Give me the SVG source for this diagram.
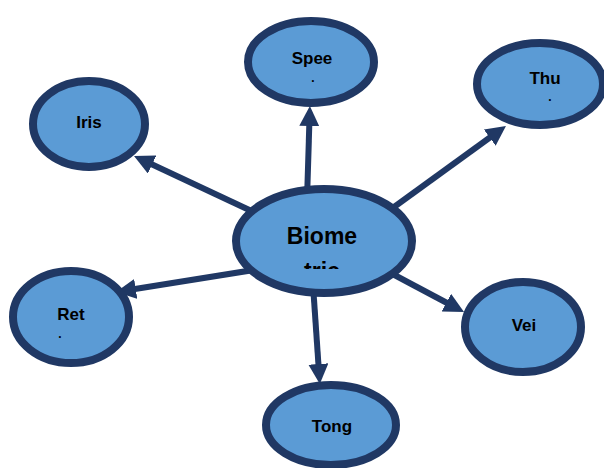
<svg xmlns="http://www.w3.org/2000/svg" width="604" height="468" viewBox="0 0 604 468">
<style>
.node{fill:#5b9bd5;stroke:#203864;stroke-width:8}
.conn{stroke:#203864;stroke-width:6;fill:none;marker-end:url(#ah)}
.lbl{font-family:"Liberation Sans",Arial,sans-serif;font-weight:bold;font-size:17px;fill:#000;text-anchor:middle}
.big{font-size:23px}
.dot{font-size:12px}
</style>
<defs>
<marker id="ah" markerUnits="userSpaceOnUse" viewBox="0 0 20 20" markerWidth="20" markerHeight="20" refX="4" refY="10" orient="auto">
<path d="M0,0 L20,10 L0,20 z" fill="#203864"/>
</marker>
<clipPath id="clipC"><rect x="230" y="180" width="200" height="89"/></clipPath>
</defs>
<rect width="604" height="468" fill="#fff"/>
<g id="connectors">
<line class="conn" x1="307" y1="200" x2="309.4" y2="122"/>
<line class="conn" x1="262" y1="216" x2="148.5" y2="162.8"/>
<line class="conn" x1="383" y1="215" x2="493" y2="135.3"/>
<line class="conn" x1="260" y1="269" x2="131.8" y2="289.5"/>
<line class="conn" x1="385" y1="270" x2="449.9" y2="304.5"/>
<line class="conn" x1="313" y1="285" x2="318.7" y2="368"/>
</g>
<g id="biometric">
<ellipse class="node" cx="324" cy="241" rx="88" ry="52"/>
<text class="lbl big" x="322" y="244">Biome</text>
<text class="lbl big" x="322" y="279" clip-path="url(#clipC)">tric</text>
</g>
<g id="speech">
<ellipse class="node" cx="311" cy="62" rx="63" ry="41"/>
<text class="lbl" x="312" y="64">Spee</text>
<text class="lbl dot" x="313" y="82">.</text>
</g>
<g id="thumb">
<ellipse class="node" cx="540" cy="84" rx="63" ry="41"/>
<text class="lbl" x="545" y="84">Thu</text>
<text class="lbl dot" x="550" y="101">.</text>
</g>
<g id="iris">
<ellipse class="node" cx="89" cy="124" rx="56" ry="43"/>
<text class="lbl" x="89" y="128">Iris</text>
</g>
<g id="retina">
<ellipse class="node" cx="71" cy="317" rx="58" ry="46"/>
<text class="lbl" x="71" y="320">Ret</text>
<text class="lbl dot" x="60" y="338">.</text>
</g>
<g id="vein">
<ellipse class="node" cx="523" cy="327" rx="58" ry="45"/>
<text class="lbl" x="524" y="331">Vei</text>
</g>
<g id="tongue">
<ellipse class="node" cx="331" cy="425" rx="65" ry="40"/>
<text class="lbl" x="332" y="432">Tong</text>
</g>
</svg>
